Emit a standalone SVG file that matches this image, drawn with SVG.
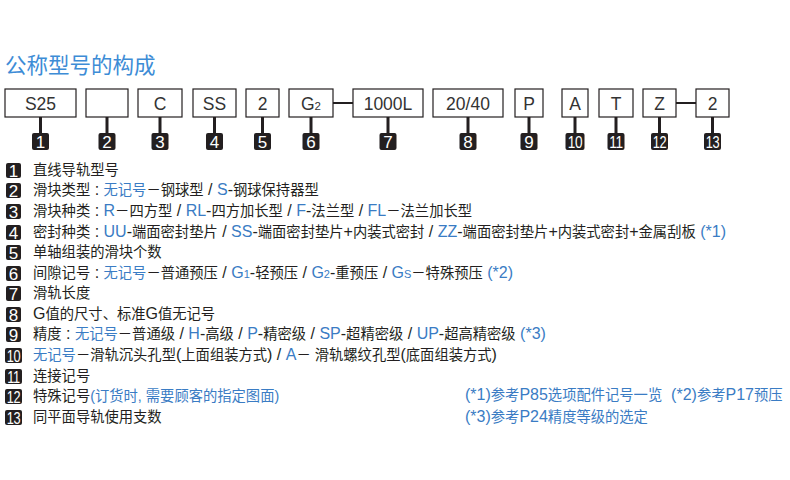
<svg xmlns="http://www.w3.org/2000/svg" width="790" height="480" viewBox="0 0 790 480">
<style>
.bx{fill:#fff;stroke:#231f20;stroke-width:1.2}
.bt{font-family:"Liberation Sans",Arial,sans-serif;font-size:17.5px;fill:#333;text-anchor:middle}
.stem{stroke:#231f20;stroke-width:3}
.dash{stroke:#231f20;stroke-width:2}
.bd{fill:#231f20}
.bn{font-family:"Liberation Sans",Arial,sans-serif;font-size:17px;fill:#fff;text-anchor:middle}
.bn2{font-family:"Liberation Sans",Arial,sans-serif;font-size:16px;fill:#fff;text-anchor:middle;letter-spacing:-0.5px}
.tx{font-family:"Liberation Sans","Noto Sans CJK SC",sans-serif;font-size:14.3px;fill:#231f20}
.l{font-size:16px}
.b{fill:#3a7cc4}
.title{font-family:"Noto Sans CJK SC",sans-serif;font-size:21.5px;fill:#3d8cd6}
</style>
<rect width="790" height="480" fill="#fff"/>
<text class="title" x="5" y="73">公称型号的构成</text>

<g id="connectors">
<line class="dash" x1="333" y1="103" x2="353" y2="103"/>
<line class="dash" x1="676" y1="103" x2="696" y2="103"/>
<line class="stem" x1="40.5" y1="117" x2="40.5" y2="134"/>
<line class="stem" x1="107" y1="117" x2="107" y2="134"/>
<line class="stem" x1="160" y1="117" x2="160" y2="134"/>
<line class="stem" x1="214.5" y1="117" x2="214.5" y2="134"/>
<line class="stem" x1="262.5" y1="117" x2="262.5" y2="134"/>
<line class="stem" x1="311" y1="117" x2="311" y2="134"/>
<line class="stem" x1="388" y1="117" x2="388" y2="134"/>
<line class="stem" x1="468" y1="117" x2="468" y2="134"/>
<line class="stem" x1="529" y1="117" x2="529" y2="134"/>
<line class="stem" x1="575" y1="117" x2="575" y2="134"/>
<line class="stem" x1="616" y1="117" x2="616" y2="134"/>
<line class="stem" x1="659.5" y1="117" x2="659.5" y2="134"/>
<line class="stem" x1="712.5" y1="117" x2="712.5" y2="134"/>
</g>

<g id="n1"><rect class="bx" x="5" y="89" width="71" height="28"/><text class="bt" x="40.5" y="110">S25</text><rect class="bd" x="32" y="133" width="17" height="17" rx="2"/><text class="bn" x="40.5" y="148">1</text></g>
<g id="n2"><rect class="bx" x="86" y="89" width="42" height="28"/><rect class="bd" x="98.5" y="133" width="17" height="17" rx="2"/><text class="bn" x="107" y="148">2</text></g>
<g id="n3"><rect class="bx" x="138" y="89" width="44" height="28"/><text class="bt" x="160" y="110">C</text><rect class="bd" x="151.5" y="133" width="17" height="17" rx="2"/><text class="bn" x="160" y="148">3</text></g>
<g id="n4"><rect class="bx" x="193" y="89" width="43" height="28"/><text class="bt" x="214.5" y="110">SS</text><rect class="bd" x="206" y="133" width="17" height="17" rx="2"/><text class="bn" x="214.5" y="148">4</text></g>
<g id="n5"><rect class="bx" x="246" y="89" width="33" height="28"/><text class="bt" x="262.5" y="110">2</text><rect class="bd" x="254" y="133" width="17" height="17" rx="2"/><text class="bn" x="262.5" y="148">5</text></g>
<g id="n6"><rect class="bx" x="289" y="89" width="44" height="28"/><text class="bt" x="311" y="110">G<tspan font-size="11.5">2</tspan></text><rect class="bd" x="302.5" y="133" width="17" height="17" rx="2"/><text class="bn" x="311" y="148">6</text></g>
<g id="n7"><rect class="bx" x="353" y="89" width="70" height="28"/><text class="bt" x="388" y="110">1000L</text><rect class="bd" x="379.5" y="133" width="17" height="17" rx="2"/><text class="bn" x="388" y="148">7</text></g>
<g id="n8"><rect class="bx" x="433" y="89" width="70" height="28"/><text class="bt" x="468" y="110">20/40</text><rect class="bd" x="459.5" y="133" width="17" height="17" rx="2"/><text class="bn" x="468" y="148">8</text></g>
<g id="n9"><rect class="bx" x="515" y="89" width="28" height="28"/><text class="bt" x="529" y="110">P</text><rect class="bd" x="520.5" y="133" width="17" height="17" rx="2"/><text class="bn" x="529" y="148">9</text></g>
<g id="n10"><rect class="bx" x="562" y="89" width="26" height="28"/><text class="bt" x="575" y="110">A</text><rect class="bd" x="565.5" y="133" width="19" height="17" rx="2"/><text class="bn2" transform="translate(575,148) scale(0.85,1)">10</text></g>
<g id="n11"><rect class="bx" x="599" y="89" width="34" height="28"/><text class="bt" x="616" y="110">T</text><rect class="bd" x="607.5" y="133" width="17" height="17" rx="2"/><text class="bn2" transform="translate(616,148) scale(0.85,1)">11</text></g>
<g id="n12"><rect class="bx" x="643" y="89" width="33" height="28"/><text class="bt" x="659.5" y="110">Z</text><rect class="bd" x="651" y="133" width="17" height="17" rx="2"/><text class="bn2" transform="translate(659.5,148) scale(0.8,1)">12</text></g>
<g id="n13"><rect class="bx" x="696" y="89" width="33" height="28"/><text class="bt" x="712.5" y="110">2</text><rect class="bd" x="704" y="133" width="17" height="17" rx="2"/><text class="bn2" transform="translate(712.5,148) scale(0.8,1)">13</text></g>

<g id="legend">
<rect class="bd" x="6" y="163" width="15" height="15" rx="2"/><text class="bn" x="13.5" y="176.5" font-size="15">1</text>
<text class="tx" x="33" y="175">直线导轨型号</text>

<rect class="bd" x="6" y="183" width="15" height="15" rx="2"/><text class="bn" x="13.5" y="196.5" font-size="15">2</text>
<text class="tx" x="33" y="195">滑块类型<tspan class="l"> : </tspan><tspan class="b">无记号</tspan>－钢球型<tspan class="l"> / </tspan><tspan class="b l">S</tspan><tspan class="l">-</tspan>钢球保持器型</text>

<rect class="bd" x="6" y="204" width="15" height="15" rx="2"/><text class="bn" x="13.5" y="217.5" font-size="15">3</text>
<text class="tx" x="33" y="216">滑块种类<tspan class="l"> : </tspan><tspan class="b l">R</tspan>－四方型<tspan class="l"> / </tspan><tspan class="b l">RL</tspan><tspan class="l">-</tspan>四方加长型<tspan class="l"> / </tspan><tspan class="b l">F</tspan><tspan class="l">-</tspan>法兰型<tspan class="l"> / </tspan><tspan class="b l">FL</tspan>－法兰加长型</text>

<rect class="bd" x="6" y="225" width="15" height="15" rx="2"/><text class="bn" x="13.5" y="238.5" font-size="15">4</text>
<text class="tx" x="33" y="237">密封种类<tspan class="l"> : </tspan><tspan class="b l">UU</tspan><tspan class="l">-</tspan>端面密封垫片<tspan class="l"> / </tspan><tspan class="b l">SS</tspan><tspan class="l">-</tspan>端面密封垫片<tspan class="l">+</tspan>内装式密封<tspan class="l"> / </tspan><tspan class="b l">ZZ</tspan><tspan class="l">-</tspan>端面密封垫片<tspan class="l">+</tspan>内装式密封<tspan class="l">+</tspan>金属刮板<tspan class="b l"> (*1)</tspan></text>

<rect class="bd" x="6" y="245" width="15" height="15" rx="2"/><text class="bn" x="13.5" y="258.5" font-size="15">5</text>
<text class="tx" x="33" y="257">单轴组装的滑块个数</text>

<rect class="bd" x="6" y="266" width="15" height="15" rx="2"/><text class="bn" x="13.5" y="279.5" font-size="15">6</text>
<text class="tx" x="33" y="278">间隙记号<tspan class="l"> : </tspan><tspan class="b">无记号</tspan>－普通预压<tspan class="l"> / </tspan><tspan class="b l">G<tspan font-size="11">1</tspan></tspan><tspan class="l">-</tspan>轻预压<tspan class="l"> / </tspan><tspan class="b l">G<tspan font-size="11">2</tspan></tspan><tspan class="l">-</tspan>重预压<tspan class="l"> / </tspan><tspan class="b l">G<tspan font-size="11">S</tspan></tspan>－特殊预压<tspan class="b l"> (*2)</tspan></text>

<rect class="bd" x="6" y="286" width="15" height="15" rx="2"/><text class="bn" x="13.5" y="299.5" font-size="15">7</text>
<text class="tx" x="33" y="298">滑轨长度</text>

<rect class="bd" x="6" y="307" width="15" height="15" rx="2"/><text class="bn" x="13.5" y="320.5" font-size="15">8</text>
<text class="tx" x="33" y="319"><tspan class="l">G</tspan>值的尺寸、标准<tspan class="l">G</tspan>值无记号</text>

<rect class="bd" x="6" y="327" width="15" height="15" rx="2"/><text class="bn" x="13.5" y="340.5" font-size="15">9</text>
<text class="tx" x="33" y="339">精度<tspan class="l"> : </tspan><tspan class="b">无记号</tspan>－普通级<tspan class="l"> / </tspan><tspan class="b l">H</tspan><tspan class="l">-</tspan>高级<tspan class="l"> / </tspan><tspan class="b l">P</tspan><tspan class="l">-</tspan>精密级<tspan class="l"> / </tspan><tspan class="b l">SP</tspan><tspan class="l">-</tspan>超精密级<tspan class="l"> / </tspan><tspan class="b l">UP</tspan><tspan class="l">-</tspan>超高精密级<tspan class="b l"> (*3)</tspan></text>

<rect class="bd" x="5" y="348" width="17" height="15" rx="2"/><text class="bn2" font-size="14.5" transform="translate(13.5,361.5) scale(0.8,1)">10</text>
<text class="tx" x="33" y="360"><tspan class="b">无记号</tspan>－滑轨沉头孔型<tspan class="l">(</tspan>上面组装方式<tspan class="l">) / </tspan><tspan class="b l">A</tspan>－ 滑轨螺纹孔型<tspan class="l">(</tspan>底面组装方式<tspan class="l">)</tspan></text>

<rect class="bd" x="5" y="369" width="17" height="15" rx="2"/><text class="bn2" font-size="14.5" transform="translate(13.5,382.5) scale(0.8,1)">11</text>
<text class="tx" x="33" y="381">连接记号</text>

<rect class="bd" x="5" y="389" width="17" height="15" rx="2"/><text class="bn2" font-size="14.5" transform="translate(13.5,402.5) scale(0.8,1)">12</text>
<text class="tx" x="33" y="401">特殊记号<tspan class="b">(订货时, 需要顾客的指定图面)</tspan></text>

<rect class="bd" x="5" y="410" width="17" height="15" rx="2"/><text class="bn2" font-size="14.5" transform="translate(13.5,423.5) scale(0.8,1)">13</text>
<text class="tx" x="33" y="422">同平面导轨使用支数</text>

<text class="tx b" x="465" y="400"><tspan class="l">(*1)</tspan>参考<tspan class="l">P85</tspan>选项配件记号一览<tspan class="l">&#160; (*2)</tspan>参考<tspan class="l">P17</tspan>预压</text>
<text class="tx b" x="465" y="422"><tspan class="l">(*3)</tspan>参考<tspan class="l">P24</tspan>精度等级的选定</text>
</g>
</svg>
